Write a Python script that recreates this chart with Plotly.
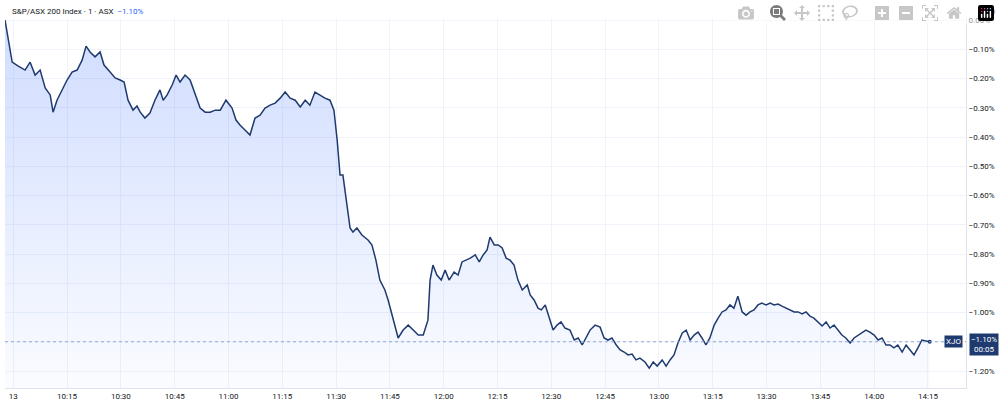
import plotly.graph_objects as go
import datetime as dt

minutes = [-2.3,-0.3,1.3,3.3,4.7,6.1,7.5,8.9,10.3,11.1,12.2,13.6,15.0,16.4,17.8,19.2,20.3,21.4,22.8,24.2,25.3,27.0,28.4,29.8,30.9,32.0,33.4,34.5,35.4,36.7,38.1,39.5,40.9,41.8,42.9,44.3,45.4,46.5,47.9,49.3,50.7,52.1,53.5,54.9,56.3,57.7,59.3,61.0,62.1,63.2,64.6,66.0,67.4,68.8,70.2,71.6,73.0,74.4,75.8,77.2,78.6,80.0,81.4,82.7,84.1,85.5,86.9,88.3,89.4,90.3,91.1,91.9,92.8,93.9,94.7,95.8,97.2,98.9,100.0,101.1,102.2,103.6,104.5,105.9,107.3,108.7,110.1,111.5,112.9,114.3,115.6,116.2,117.0,118.1,119.3,120.4,121.5,122.9,124.0,125.1,126.2,127.4,128.8,129.9,131.0,132.1,132.9,134.1,135.2,136.3,137.4,138.5,139.6,140.7,141.9,143.3,144.1,145.2,146.3,147.2,148.3,149.4,150.5,151.6,152.7,153.8,155.2,156.4,157.5,158.6,159.4,160.8,162.2,163.6,164.7,165.8,166.9,168.1,169.2,170.3,171.4,172.5,173.6,174.7,176.1,177.3,178.4,179.5,180.9,182.0,183.1,184.2,185.3,186.5,187.6,188.7,189.8,190.9,192.0,193.1,194.2,195.4,196.5,197.6,198.7,199.8,200.9,202.0,203.2,204.3,205.4,206.5,207.6,208.7,209.9,211.0,212.1,213.2,214.3,215.4,216.5,217.7,218.8,219.9,221.0,222.1,223.2,224.4,225.5,226.6,227.7,228.8,229.9,231.0,232.1,233.3,234.4,235.5,236.6,237.7,238.8,240.0,241.1,242.2,243.3,244.4,245.5,246.6,247.8,248.9,250.0,251.1,252.2,253.3,254.4,255.5]

change_pct = [0.0,-0.144,-0.157,-0.171,-0.144,-0.188,-0.171,-0.232,-0.256,-0.315,-0.274,-0.239,-0.205,-0.178,-0.171,-0.137,-0.089,-0.109,-0.126,-0.109,-0.154,-0.178,-0.198,-0.205,-0.212,-0.274,-0.308,-0.294,-0.315,-0.335,-0.318,-0.274,-0.239,-0.274,-0.256,-0.222,-0.188,-0.212,-0.188,-0.205,-0.256,-0.301,-0.315,-0.315,-0.308,-0.308,-0.274,-0.301,-0.342,-0.359,-0.376,-0.393,-0.335,-0.325,-0.301,-0.291,-0.284,-0.267,-0.246,-0.267,-0.274,-0.297,-0.274,-0.291,-0.246,-0.256,-0.267,-0.274,-0.308,-0.410,-0.530,-0.530,-0.615,-0.711,-0.725,-0.711,-0.735,-0.752,-0.769,-0.821,-0.889,-0.923,-0.957,-1.026,-1.087,-1.060,-1.043,-1.060,-1.077,-1.077,-1.026,-0.889,-0.838,-0.872,-0.889,-0.855,-0.889,-0.862,-0.872,-0.827,-0.821,-0.814,-0.803,-0.827,-0.803,-0.786,-0.742,-0.769,-0.769,-0.779,-0.814,-0.821,-0.838,-0.889,-0.923,-0.906,-0.940,-0.957,-0.985,-0.991,-0.974,-1.019,-1.060,-1.043,-1.032,-1.053,-1.060,-1.094,-1.087,-1.111,-1.094,-1.060,-1.043,-1.050,-1.087,-1.094,-1.087,-1.111,-1.128,-1.135,-1.145,-1.142,-1.162,-1.156,-1.169,-1.190,-1.169,-1.183,-1.162,-1.183,-1.162,-1.145,-1.104,-1.070,-1.060,-1.094,-1.077,-1.067,-1.087,-1.111,-1.087,-1.043,-1.019,-0.998,-0.991,-0.974,-0.985,-0.944,-0.998,-1.009,-0.998,-0.991,-0.974,-0.968,-0.974,-0.968,-0.974,-0.971,-0.978,-0.985,-0.991,-0.998,-0.998,-1.005,-0.998,-1.012,-1.019,-1.032,-1.046,-1.032,-1.053,-1.043,-1.060,-1.077,-1.087,-1.104,-1.087,-1.077,-1.067,-1.060,-1.067,-1.077,-1.094,-1.087,-1.111,-1.111,-1.121,-1.111,-1.135,-1.111,-1.128,-1.145,-1.121,-1.094,-1.097,-1.10]

n = min(len(minutes), len(change_pct))
minutes = minutes[:n]; change_pct = change_pct[:n]

tick_labels = ["13","10:15","10:30","10:45","11:00","11:15","11:30","11:45","12:00","12:15","12:30","12:45","13:00","13:15","13:30","13:45","14:00","14:15"]
ytick_vals = [0,-0.1,-0.2,-0.3,-0.4,-0.5,-0.6,-0.7,-0.8,-0.9,-1.0,-1.1,-1.2]

base = dt.datetime(2024, 6, 13, 10, 0)
times = [base + dt.timedelta(minutes=m) for m in minutes]
tickvals = [base + dt.timedelta(minutes=15*i) for i in range(len(tick_labels))]
ytext = [("0.00%" if v == 0 else "\u2212%.2f%%" % abs(v)) for v in ytick_vals]
# hide the -1.10% tick label (covered by the price tag in the reference)
ytext = [("" if abs(v + 1.1) < 1e-9 else t) for v, t in zip(ytick_vals, ytext)]

ymin, ymax = -1.258, 0.007
navy = "#1e3a6e"
fig = go.Figure()
fig.add_trace(go.Scatter(x=times, y=[ymin]*n, mode="lines", line=dict(width=0), hoverinfo="skip", showlegend=False))
fig.add_trace(go.Scatter(x=times, y=change_pct, mode="lines", line=dict(color=navy, width=1.5),
                         fill="tonexty",
                         fillgradient=dict(type="vertical", colorscale=[[0, "rgba(41,98,255,0.02)"], [1, "rgba(41,98,255,0.22)"]]),
                         showlegend=False))
fig.add_trace(go.Scatter(x=[times[-1]], y=[change_pct[-1]], mode="markers", marker=dict(color=navy, size=4), showlegend=False))
fig.add_hline(y=change_pct[-1], line=dict(color="#8fa6d6", width=1, dash="dot"))

fig.update_layout(
    width=1000, height=406, margin=dict(l=5, r=34, t=18, b=18, autoexpand=False),
    paper_bgcolor="white", plot_bgcolor="white",
    font=dict(family="Roboto", size=8, color="#131722"),
    xaxis=dict(range=[base + dt.timedelta(minutes=-2.3), base + dt.timedelta(minutes=265.6)],
               tickvals=tickvals, ticktext=tick_labels, showgrid=True, gridcolor="#f0f3fa", automargin=False,
               showline=True, linecolor="#e0e3eb", ticks="", zeroline=False, tickfont=dict(size=8, color="#131722")),
    yaxis=dict(side="right", range=[ymin, ymax], tickvals=ytick_vals, ticktext=ytext, showgrid=True, automargin=False,
               gridcolor="#f0f3fa", showline=True, linecolor="#e0e3eb", zeroline=False, ticks="",
               tickfont=dict(size=8, color="#131722")),
    annotations=[
        dict(xref="paper", yref="paper", x=0.005, y=1.0, yanchor="bottom", xanchor="left", showarrow=False,
             text="S&P/ASX 200 Index · 1 · ASX  <span style='color:#2962ff'>\u22121.10%</span>", font=dict(size=8, color="#131722")),
        dict(xref="paper", yref="paper", x=1.012, y=1.0, yanchor="bottom", xanchor="left", showarrow=False,
             text="AUD", font=dict(size=8, color="#131722")),
        dict(xref="paper", yref="y", x=0.997, y=change_pct[-1], xanchor="right", showarrow=False,
             text="XJO", bgcolor=navy, font=dict(size=8, color="white"), borderpad=1),
        dict(xref="paper", yref="y", x=1.003, y=change_pct[-1], xanchor="left", yanchor="middle", showarrow=False,
             text="\u22121.10%<br>00:05", bgcolor=navy, font=dict(size=8, color="white"), borderpad=1, yshift=-3),
    ],
)
fig.write_html("out.html", post_script="document.body.style.margin='0';document.body.style.overflow='hidden';")
